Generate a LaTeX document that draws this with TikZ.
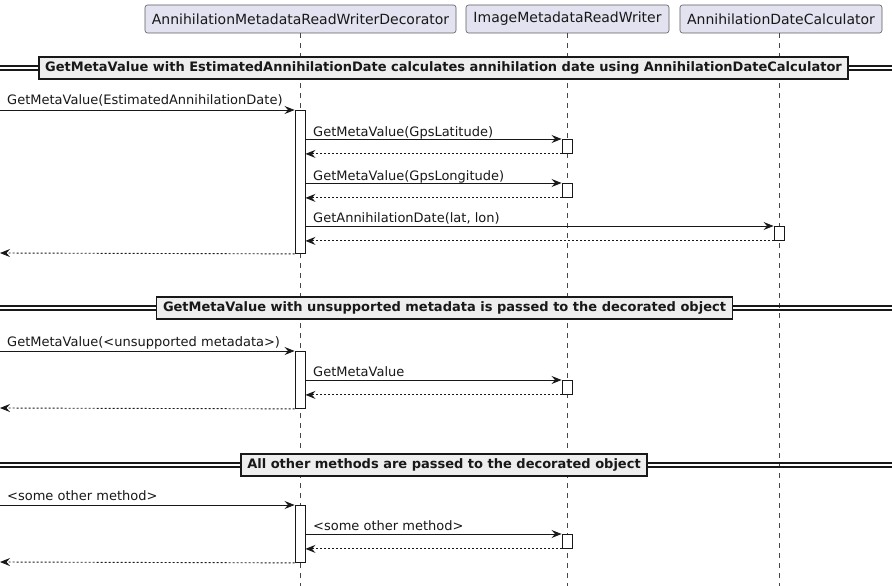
\documentclass[tikz,border=0pt]{standalone}
\usepackage{fontspec}
\setmainfont{DejaVu Sans}
\usetikzlibrary{arrows.meta}
\definecolor{partfill}{HTML}{E2E2F0}
\definecolor{ink}{HTML}{181818}
\definecolor{divfill}{HTML}{EEEEEE}
\tikzset{
  part/.style={draw=ink!70, fill=partfill, rounded corners=2.5pt, line width=0.6pt,
    minimum height=28pt, inner xsep=0pt, inner ysep=0pt, font=\fontsize{14}{16}\selectfont, text=ink},
  life/.style={draw=ink!80, line width=0.5pt, dash pattern=on 5pt off 5pt},
  act/.style={draw=ink, fill=white, line width=0.9pt, minimum width=10pt, inner sep=0pt, anchor=north},
  msg/.style={draw=ink, line width=0.9pt, -{Stealth[length=10pt,width=8pt,inset=3.5pt]}},
  ret/.style={msg, dash pattern=on 2pt off 2pt},
  lbl/.style={anchor=base west, inner sep=0pt, font=\fontsize{13}{15}\selectfont, text=ink},
  divline/.style={draw=ink, line width=1.1pt},
  divbox/.style={draw=ink, fill=divfill, line width=1.6pt, minimum height=22pt, inner xsep=6.5pt,
    inner ysep=0pt, font=\bfseries\fontsize{13}{15}\selectfont, text=ink}
}
\begin{document}
\begin{tikzpicture}[x=1pt,y=-1pt]
\useasboundingbox[fill=white] (0,0) rectangle (892,586);
% participants
\node[part, minimum width=311pt] (p1) at (300.5,19) {AnnihilationMetadataReadWriterDecorator};
\node[part, minimum width=203pt] (p2) at (567.5,19) {ImageMetadataReadWriter};
\node[part, minimum width=202pt] (p3) at (781,19) {AnnihilationDateCalculator};
\coordinate (l1end) at (300,586);
\coordinate (l2end) at (567,586);
\coordinate (l3end) at (779,586);
\draw[life] (p1.south -| l1end) -- (l1end);
\draw[life] (p2.south -| l2end) -- (l2end);
\draw[life] (p3.south -| l3end) -- (l3end);

% ---- divider 1
\coordinate (d1l) at (0,68); \coordinate (d1r) at (892,68);
\draw[divline] ([yshift=-2pt]d1l) -- ([yshift=-2pt]d1r);
\draw[divline] ([yshift=2pt]d1l) -- ([yshift=2pt]d1r);
\node[divbox] (d1) at (443.5,68) {GetMetaValue with EstimatedAnnihilationDate calculates annihilation date using AnnihilationDateCalculator};

% activations block 1
\node[act, minimum height=143pt] (a1) at (300,110) {};
\node[act, minimum height=14pt] (a2) at (567,139) {};
\node[act, minimum height=14pt] (a3) at (567,183) {};
\node[act, minimum height=14pt] (a4) at (779,226) {};

\coordinate (m1s) at (0,110);
\draw[msg] (m1s) -- (a1.north west);
\node[lbl] (t1) at (7,105) {GetMetaValue(EstimatedAnnihilationDate)};
\draw[msg] (a1.east |- a2.north) -- (a2.north west);
\node[lbl] (t2) at (313,136) {GetMetaValue(GpsLatitude)};
\draw[ret] (a2.south west) -- (a1.east |- a2.south);
\draw[msg] (a1.east |- a3.north) -- (a3.north west);
\node[lbl] (t3) at (313,180) {GetMetaValue(GpsLongitude)};
\draw[ret] (a3.south west) -- (a1.east |- a3.south);
\draw[msg] (a1.east |- a4.north) -- (a4.north west);
\node[lbl] (t4) at (313,222) {GetAnnihilationDate(lat, lon)};
\draw[ret] (a4.south west) -- (a1.east |- a4.south);
\coordinate (r1e) at (0,253);
\draw[ret] (a1.south west) -- (r1e);

% ---- divider 2
\coordinate (d2l) at (0,308); \coordinate (d2r) at (892,308);
\draw[divline] ([yshift=-2pt]d2l) -- ([yshift=-2pt]d2r);
\draw[divline] ([yshift=2pt]d2l) -- ([yshift=2pt]d2r);
\node[divbox] (d2) at (444.5,308) {GetMetaValue with unsupported metadata is passed to the decorated object};

\node[act, minimum height=57pt] (b1) at (300,351) {};
\node[act, minimum height=14pt] (b2) at (567,380) {};
\coordinate (m2s) at (0,351);
\draw[msg] (m2s) -- (b1.north west);
\node[lbl] (u1) at (7,346) {GetMetaValue(<unsupported metadata>)};
\draw[msg] (b1.east |- b2.north) -- (b2.north west);
\node[lbl] (u2) at (313,376) {GetMetaValue};
\draw[ret] (b2.south west) -- (b1.east |- b2.south);
\coordinate (r2e) at (0,408);
\draw[ret] (b1.south west) -- (r2e);

% ---- divider 3
\coordinate (d3l) at (0,465); \coordinate (d3r) at (892,465);
\draw[divline] ([yshift=-2pt]d3l) -- ([yshift=-2pt]d3r);
\draw[divline] ([yshift=2pt]d3l) -- ([yshift=2pt]d3r);
\node[divbox] (d3) at (444,465) {All other methods are passed to the decorated object};

\node[act, minimum height=57pt] (c1) at (300,505) {};
\node[act, minimum height=14pt] (c2) at (567,534) {};
\coordinate (m3s) at (0,505);
\draw[msg] (m3s) -- (c1.north west);
\node[lbl] (v1) at (7,500) {<some other method>};
\draw[msg] (c1.east |- c2.north) -- (c2.north west);
\node[lbl] (v2) at (313,530) {<some other method>};
\draw[ret] (c2.south west) -- (c1.east |- c2.south);
\coordinate (r3e) at (0,562);
\draw[ret] (c1.south west) -- (r3e);
\end{tikzpicture}
\end{document}
